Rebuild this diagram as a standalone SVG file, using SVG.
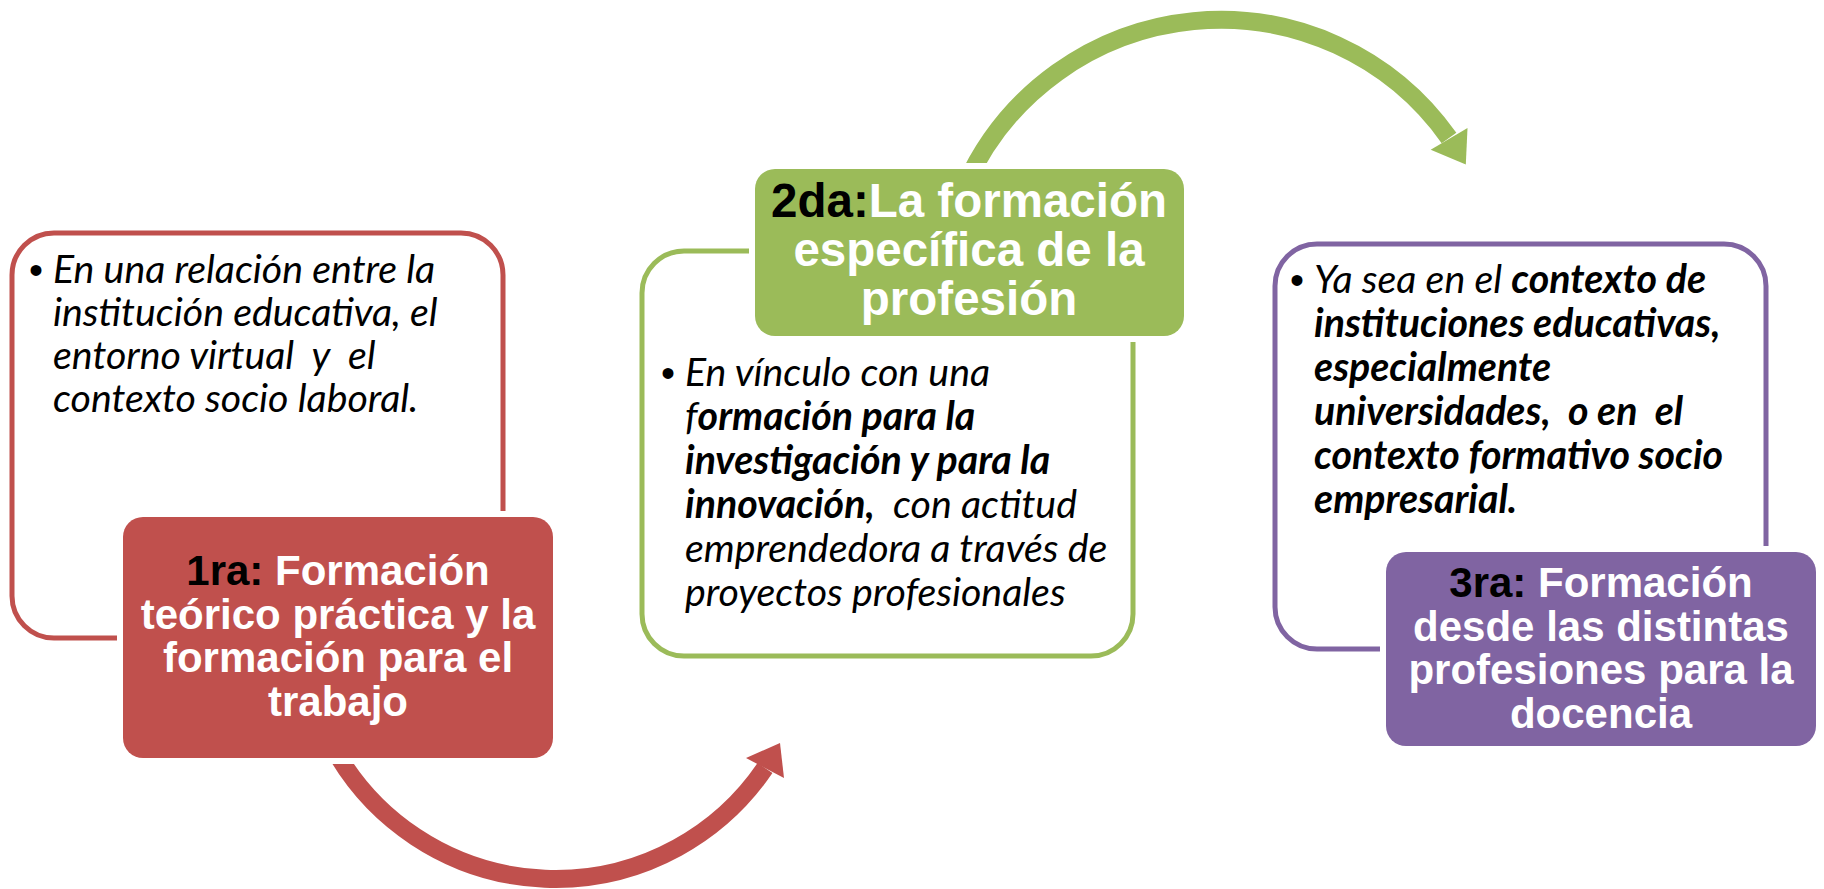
<svg xmlns="http://www.w3.org/2000/svg" width="1824" height="889" viewBox="0 0 1824 889">
<style>
.h{font-family:"Liberation Sans",Arial,sans-serif;font-weight:bold;fill:#fff;text-anchor:middle}
.k{fill:#000}
.b{font-family:Lato,"Liberation Sans",sans-serif;font-style:italic;font-size:39.3px;fill:#000;white-space:pre}
.bb{font-weight:bold}
.dot{font-family:"Liberation Sans",Arial,sans-serif;font-size:40px;fill:#000}
.outline{fill:#fff;stroke-width:5}
.card{stroke:#fff;stroke-width:12;paint-order:stroke}
.shaft{fill:none;stroke-width:18}
</style>
<rect width="1824" height="889" fill="#fff"/>
<g id="connectors">
  <path class="shaft" stroke="#C0504D" d="M334.6,750 A253.5,253.5 0 0 0 765,768"/>
  <polygon fill="#C0504D" points="780,743 746,758 784,778"/>
  <path class="shaft" stroke="#9BBB59" d="M965.3,185 A279.8,279.8 0 0 1 1449,138"/>
  <polygon fill="#9BBB59" points="1465.8,164.6 1430.7,149.8 1467.5,128.1"/>
</g>
<g id="node1">
  <rect class="outline" stroke="#C0504D" x="12" y="233" width="491" height="405" rx="42"/>
  <text class="dot" x="29" y="284">•</text>
  <text class="b" x="53" y="283">En una relación entre la</text>
  <text class="b" x="53" y="326">institución educativa, el</text>
  <text class="b" x="53" y="369">entorno virtual  y  el</text>
  <text class="b" x="53" y="412">contexto socio laboral.</text>
  <rect class="card" fill="#C0504D" x="123" y="517" width="430" height="241" rx="20"/>
  <text class="h" font-size="42" x="338" y="585"><tspan class="k">1ra:</tspan> Formación</text>
  <text class="h" font-size="42" x="338" y="628.5">teórico práctica y la</text>
  <text class="h" font-size="42" x="338" y="672">formación para el</text>
  <text class="h" font-size="42" x="338" y="715.5">trabajo</text>
</g>
<g id="node2">
  <rect class="outline" stroke="#9BBB59" x="642" y="251" width="491" height="405" rx="42"/>
  <text class="dot" x="661" y="387">•</text>
  <text class="b" x="685" y="386">En vínculo con una</text>
  <text class="b" x="685" y="430">f<tspan class="bb">ormación para la</tspan></text>
  <text class="b bb" x="685" y="474">investigación y para la</text>
  <text class="b" x="685" y="518"><tspan class="bb">innovación,</tspan>  con actitud</text>
  <text class="b" x="685" y="562">emprendedora a través de</text>
  <text class="b" x="685" y="606">proyectos profesionales</text>
  <rect class="card" fill="#9BBB59" x="755" y="169" width="429" height="167" rx="20"/>
  <text class="h" font-size="47.5" x="969" y="217"><tspan class="k">2da:</tspan>La formación</text>
  <text class="h" font-size="47.5" x="969" y="266">específica de la</text>
  <text class="h" font-size="47.5" x="969" y="315">profesión</text>
</g>
<g id="node3">
  <rect class="outline" stroke="#8064A2" x="1275" y="244" width="491" height="405" rx="42"/>
  <text class="dot" x="1290" y="294">•</text>
  <text class="b" x="1314" y="293">Ya sea en el <tspan class="bb">contexto de</tspan></text>
  <text class="b bb" x="1314" y="337">instituciones educativas,</text>
  <text class="b bb" x="1314" y="381">especialmente</text>
  <text class="b bb" x="1314" y="425">universidades,  o en  el</text>
  <text class="b bb" x="1314" y="469">contexto formativo socio</text>
  <text class="b bb" x="1314" y="513">empresarial.</text>
  <rect class="card" fill="#8064A2" x="1386" y="552" width="430" height="194" rx="20"/>
  <text class="h" font-size="42" x="1601" y="597"><tspan class="k">3ra:</tspan> Formación</text>
  <text class="h" font-size="42" x="1601" y="640.5">desde las distintas</text>
  <text class="h" font-size="42" x="1601" y="684">profesiones para la</text>
  <text class="h" font-size="42" x="1601" y="727.5">docencia</text>
</g>
</svg>
